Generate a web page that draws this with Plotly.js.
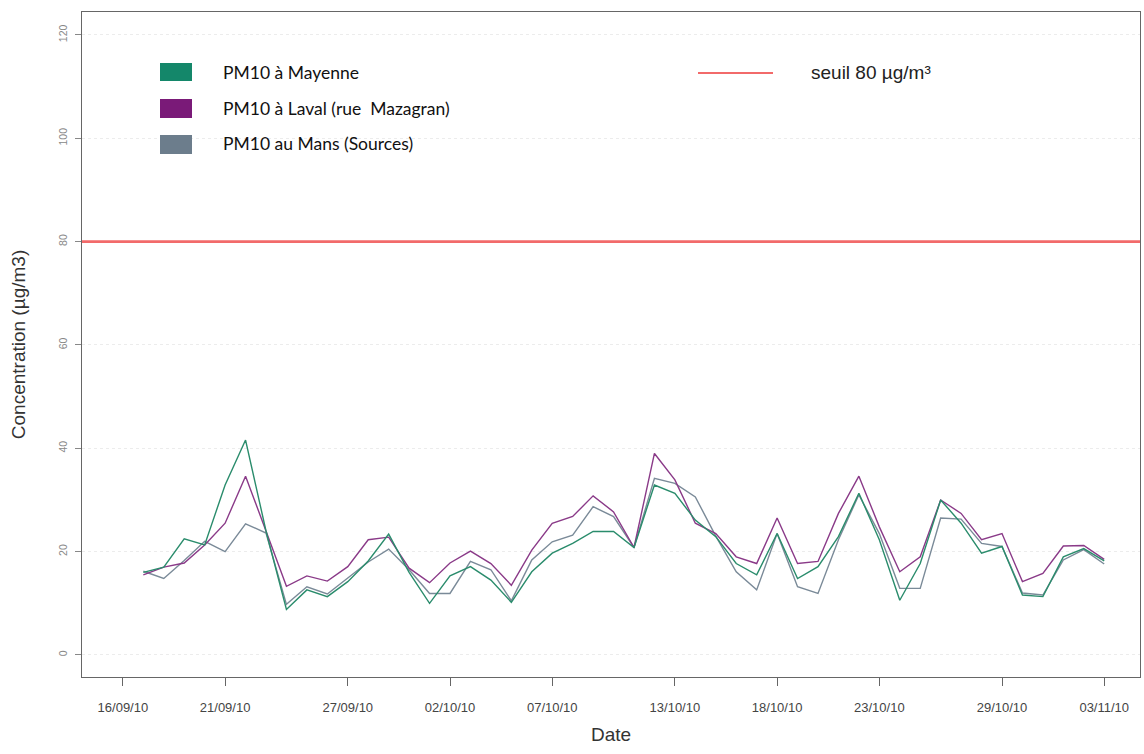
<!DOCTYPE html>
<html>
<head>
<meta charset="utf-8">
<script src="https://cdn.plot.ly/plotly-3.0.1.min.js"></script>
<style>html,body{margin:0;padding:0;background:#fff;}#chart{width:1144px;height:754px;}</style>
</head>
<body>
<div id="chart"></div>
<script>
const dates = ['2010-09-17','2010-09-18','2010-09-19','2010-09-20','2010-09-21','2010-09-22','2010-09-23','2010-09-24','2010-09-25','2010-09-26',
  '2010-09-27','2010-09-28','2010-09-29','2010-09-30','2010-10-01','2010-10-02','2010-10-03','2010-10-04','2010-10-05','2010-10-06',
  '2010-10-07','2010-10-08','2010-10-09','2010-10-10','2010-10-11','2010-10-12','2010-10-13','2010-10-14','2010-10-15','2010-10-16',
  '2010-10-17','2010-10-18','2010-10-19','2010-10-20','2010-10-21','2010-10-22','2010-10-23','2010-10-24','2010-10-25','2010-10-26',
  '2010-10-27','2010-10-28','2010-10-29','2010-10-30','2010-10-31','2010-11-01','2010-11-02','2010-11-03'];

const mayenne = [16.0,17.0,22.5,21.3,32.9,41.6,24.0,8.8,12.6,11.3,
  14.2,18.2,23.4,16.0,10.0,15.3,17.1,14.5,10.2,16.1,
  19.7,21.6,23.9,23.9,20.8,32.9,31.3,26.1,22.9,17.7,
  15.5,23.5,14.8,17.1,22.9,31.3,22.3,10.6,17.7,30.0,
  25.5,19.7,21.0,11.6,11.3,19.0,20.6,18.2];

const laval = [15.5,17.0,17.8,21.3,25.5,34.6,24.0,13.3,15.3,14.3,
  17.1,22.3,22.8,16.8,14.0,17.8,20.1,17.7,13.5,20.3,
  25.5,26.8,30.8,27.7,20.8,39.0,33.9,25.5,23.5,19.0,
  17.7,26.5,17.7,18.1,27.4,34.6,24.8,16.1,19.0,30.0,
  27.4,22.3,23.5,14.2,15.8,21.1,21.2,18.5];

const mans = [16.2,14.8,18.3,22.0,20.0,25.4,23.6,9.8,13.2,11.8,
  14.9,18.0,20.5,16.5,11.9,11.9,18.1,16.5,10.5,18.4,
  21.9,23.2,28.7,26.8,20.8,34.2,33.2,30.6,23.0,16.1,
  12.6,23.5,13.2,11.9,22.3,31.0,23.5,12.9,12.9,26.5,
  26.3,21.6,21.0,12.0,11.6,18.4,20.4,17.6];

const seriesNames = ['PM10 à Mayenne','PM10 à Laval (rue  Mazagran)','PM10 au Mans (Sources)'];
const seuil = 80;
const seuilLabel = 'seuil 80 µg/m³';

const tickDates = ['2010-09-16','2010-09-21','2010-09-27','2010-10-02','2010-10-07','2010-10-13','2010-10-18','2010-10-23','2010-10-29','2010-11-03'];
const tickLabels = ['16/09/10','21/09/10','27/09/10','02/10/10','07/10/10','13/10/10','18/10/10','23/10/10','29/10/10','03/11/10'];
const yTicks = [0,20,40,60,80,100,120];

const lineColors = ['#2a8c6c','#8a3a88','#7a8a98'];
const swatchColors = ['#14876a','#7a1a78','#6c7d8c'];

const series = [mayenne, laval, mans];
const order = [2,1,0];
const traces = order.map(i => ({
  x: dates, y: series[i], type: 'scatter', mode: 'lines',
  name: seriesNames[i], showlegend: false,
  line: {color: lineColors[i], width: 1.4}
}));

const W = 1144, H = 754, mL = 82, mR = 4, mT = 12, mB = 77;
const pw = W - mL - mR, ph = H - mT - mB;
const px = X => (X - mL) / pw;
const py = Y => (H - mB - Y) / ph;

const shapes = [
  {type:'line', xref:'paper', yref:'y', x0:0, x1:1, y0:seuil, y1:seuil, line:{color:'#f26a6a', width:2.6}, layer:'above'}
];
const annotations = [];
const swY = [[63,81],[99,118],[135,154]];
const txtY = [72,108,144];
for (let i=0;i<3;i++){
  shapes.push({type:'rect', xref:'paper', yref:'paper', x0:px(160), x1:px(192), y0:py(swY[i][1]), y1:py(swY[i][0]),
    fillcolor: swatchColors[i], line:{width:0}});
  annotations.push({xref:'paper', yref:'paper', x:px(221), y:py(txtY[i]), xanchor:'left', yanchor:'middle',
    text: seriesNames[i], showarrow:false, font:{family:'Lato, "Noto Sans", sans-serif', size:17.5, color:'#111'}});
}
shapes.push({type:'line', xref:'paper', yref:'paper', x0:px(698), x1:px(773), y0:py(73), y1:py(73), line:{color:'#f26a6a', width:2.2}});
annotations.push({xref:'paper', yref:'paper', x:px(809), y:py(73), xanchor:'left', yanchor:'middle',
  text: seuilLabel, showarrow:false, font:{family:'"Liberation Sans", Arial, sans-serif', size:19, color:'#222'}});

const layout = {
  width: W, height: H,
  margin: {l: mL, r: mR, t: mT, b: mB, pad: 0},
  paper_bgcolor: '#fff', plot_bgcolor: '#fff',
  font: {family: '"Liberation Sans", Arial, sans-serif', color: '#333'},
  xaxis: {
    type: 'date', range: ['2010-09-14 00:00','2010-11-04 18:00'],
    tickmode: 'array', tickvals: tickDates, ticktext: tickLabels,
    ticks: 'outside', ticklen: 8, tickcolor: '#666', tickwidth: 1,
    ticklabelstandoff: 10,
    tickfont: {size: 13, color: '#444'},
    showline: true, linecolor: '#666', linewidth: 1.2, mirror: true,
    showgrid: false, zeroline: false, automargin: false,
    title: {text: 'Date', font: {size: 19, color: '#333'}, standoff: 14}
  },
  yaxis: {
    range: [-4.26, 124.44],
    tickmode: 'array', tickvals: yTicks, ticktext: yTicks.map(String),
    ticks: 'outside', ticklen: 6, tickcolor: '#888', tickwidth: 1,
    ticklabelstandoff: 4,
    tickangle: -90, tickfont: {size: 10.5, color: '#888'},
    showline: true, linecolor: '#666', linewidth: 1.2, mirror: true,
    showgrid: true, gridcolor: '#ececec', griddash: 'dot', gridwidth: 1,
    zeroline: false, automargin: false,
    title: {text: 'Concentration (µg/m3)', font: {size: 19, color: '#333'}, standoff: 26}
  },
  shapes: shapes,
  annotations: annotations
};

Plotly.newPlot('chart', traces, layout, {displayModeBar: false, staticPlot: true});
</script>
</body>
</html>
